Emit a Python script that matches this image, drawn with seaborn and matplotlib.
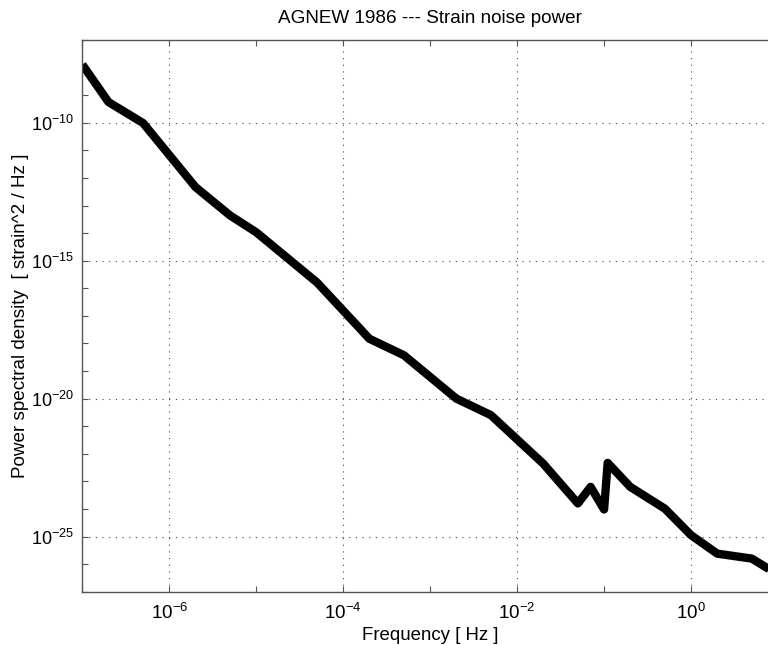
import numpy as np
import pandas as pd
import matplotlib
matplotlib.use("Agg")
import matplotlib.pyplot as plt
import matplotlib.ticker as mticker
import seaborn as sns

# ---- data ----
freq_hz = [1e-7, 2e-7, 5e-7, 2e-6, 5e-6, 1e-5, 5e-5, 2e-4, 5e-4, 2e-3, 5e-3,
           2e-2, 5e-2, 7e-2, 0.1, 0.11, 0.2, 0.5, 1.0, 2.0, 5.0, 10.0]
log_psd = [-7.89, -9.25, -10.01, -12.33, -13.36, -13.97, -15.79, -17.83, -18.43,
           -20.0, -20.6, -22.36, -23.80, -23.20, -24.02, -22.33, -23.20, -23.99,
           -24.95, -25.62, -25.80, -26.38]
psd = [10.0 ** v for v in log_psd]

title = "AGNEW 1986 --- Strain noise power"
xlabel = "Frequency [ Hz ]"
ylabel = "Power spectral density  [ strain^2 / Hz ]"
x_major = [1e-6, 1e-4, 1e-2, 1e0]
x_minor = [1e-7, 1e-5, 1e-3, 1e-1, 1e1]
y_major = [1e-25, 1e-20, 1e-15, 1e-10]
y_minor = [10.0 ** e for e in range(-27, -6) if e % 5 != 0]

df = pd.DataFrame({"freq": freq_hz, "psd": psd})

sns.set_style("white")
plt.rcParams["font.family"] = ["Liberation Sans", "DejaVu Sans"]
plt.rcParams["text.color"] = "black"
plt.rcParams["axes.labelcolor"] = "black"

fig = plt.figure(figsize=(7.68, 6.45), dpi=100)
ax = fig.add_axes([82.3 / 768, 1 - 591.7 / 645, (778 - 82.3) / 768, (591.7 - 40) / 645])

sns.lineplot(data=df, x="freq", y="psd", ax=ax, color="black", linewidth=6.0,
             sort=False, estimator=None)
ax.lines[0].set_solid_joinstyle("round")
ax.lines[0].set_solid_capstyle("butt")

ax.set_xscale("log")
ax.set_yscale("log")
ax.set_xlim(1e-7, 1e1)
ax.set_ylim(1e-27, 1e-7)

ax.xaxis.set_major_locator(mticker.FixedLocator(x_major))
ax.xaxis.set_minor_locator(mticker.FixedLocator(x_minor))
ax.yaxis.set_major_locator(mticker.FixedLocator(y_major))
ax.yaxis.set_minor_locator(mticker.FixedLocator(y_minor))
ax.xaxis.set_major_formatter(mticker.LogFormatterSciNotation())
ax.yaxis.set_major_formatter(mticker.LogFormatterSciNotation())
ax.xaxis.set_minor_formatter(mticker.NullFormatter())
ax.yaxis.set_minor_formatter(mticker.NullFormatter())

spine_c = "#555555"
for s in ax.spines.values():
    s.set_color(spine_c)
    s.set_linewidth(1.0)

ax.tick_params(which="both", direction="in", top=True, right=True, bottom=True, left=True,
               length=4, width=0.8, color=spine_c, labelcolor="black")
ax.tick_params(axis="x", which="major", labelsize=13.5, pad=8)
ax.tick_params(axis="y", which="major", labelsize=13, pad=6)

ax.grid(True, which="major", linestyle=(0, (1, 5)), color="#444444", linewidth=0.8)
ax.grid(False, which="minor")

ax.set_title(title, fontsize=13.6, pad=12)
ax.set_xlabel(xlabel, fontsize=13.4, labelpad=3)
ax.set_ylabel(ylabel, fontsize=13.6)
ax.yaxis.set_label_coords(-0.077, 0.5)

fig.savefig("out.png", dpi=100)
